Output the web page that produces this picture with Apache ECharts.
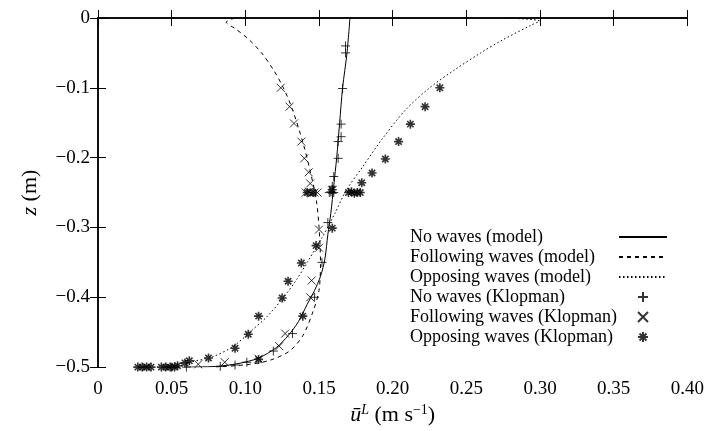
<!DOCTYPE html>
<html>
<head>
<meta charset="utf-8">
<script src="https://cdn.jsdelivr.net/npm/echarts@6/dist/echarts.min.js"></script>
<style>
  html, body { margin: 0; padding: 0; background: #fff; }
  #chart { width: 707px; height: 431px; }
</style>
</head>
<body>
<div id="chart"></div>
<script>
// data: [u (m/s), z (m)]
var noWavesModel = [
    [0.171, 0], [0.169, -0.05], [0.166, -0.10], [0.164, -0.15], [0.162, -0.20],
    [0.160, -0.24], [0.158, -0.28], [0.156, -0.31], [0.154, -0.345], [0.151, -0.37],
    [0.147, -0.39], [0.142, -0.41], [0.136, -0.435], [0.129, -0.455], [0.121, -0.472],
    [0.109, -0.487], [0.095, -0.495], [0.080, -0.499], [0.060, -0.5]
];
var followingModel = [
    [0.093, 0], [0.087, -0.006], [0.093, -0.015], [0.102, -0.03], [0.111, -0.05],
    [0.1193, -0.075], [0.1258, -0.10], [0.1318, -0.13], [0.1393, -0.18], [0.1441, -0.22],
    [0.1481, -0.26], [0.150, -0.30], [0.151, -0.35], [0.150, -0.39], [0.146, -0.42],
    [0.139, -0.455], [0.130, -0.477], [0.117, -0.490], [0.103, -0.496], [0.080, -0.5]
];
var opposingModel = [
    [0.277, 0], [0.2997, -0.0043], [0.2942, -0.010], [0.2746, -0.0314], [0.2597, -0.05],
    [0.2420, -0.0743], [0.2251, -0.100], [0.2088, -0.1314], [0.1925, -0.1743], [0.1797, -0.2129],
    [0.1688, -0.2457], [0.1607, -0.28], [0.152, -0.315], [0.142, -0.35], [0.135, -0.374],
    [0.126, -0.40], [0.115, -0.427], [0.103, -0.45], [0.092, -0.47], [0.078, -0.485],
    [0.062, -0.493], [0.045, -0.5]
];
var noWavesKlopman = [
    [0.168, -0.040], [0.168, -0.050], [0.166, -0.101], [0.165, -0.152], [0.165, -0.170],
    [0.163, -0.177], [0.163, -0.201], [0.160, -0.227], [0.159, -0.241], [0.157, -0.250],
    [0.158, -0.249], [0.159, -0.251], [0.160, -0.250], [0.156, -0.293], [0.152, -0.350],
    [0.147, -0.400], [0.132, -0.452], [0.119, -0.477], [0.101, -0.493], [0.093, -0.497],
    [0.083, -0.499], [0.060, -0.500], [0.050, -0.500]
];
var followingKlopman = [
    [0.124, -0.100], [0.130, -0.127], [0.133, -0.151], [0.138, -0.177], [0.140, -0.201],
    [0.143, -0.221], [0.144, -0.237], [0.141, -0.250], [0.143, -0.249], [0.145, -0.251],
    [0.147, -0.250], [0.149, -0.250], [0.150, -0.303], [0.150, -0.329], [0.145, -0.376],
    [0.144, -0.400], [0.127, -0.452], [0.123, -0.470], [0.109, -0.488], [0.086, -0.493],
    [0.068, -0.496], [0.048, -0.500], [0.033, -0.500]
];
var opposingKlopman = [
    [0.232, -0.100], [0.222, -0.127], [0.212, -0.152], [0.204, -0.177], [0.195, -0.202],
    [0.186, -0.222], [0.179, -0.236], [0.170, -0.250], [0.172, -0.249], [0.174, -0.251],
    [0.176, -0.250], [0.178, -0.250], [0.159, -0.246], [0.142, -0.250], [0.146, -0.250],
    [0.159, -0.301], [0.148, -0.326], [0.138, -0.351], [0.129, -0.377], [0.125, -0.401],
    [0.139, -0.427], [0.109, -0.427], [0.102, -0.453], [0.093, -0.473], [0.109, -0.489],
    [0.075, -0.487], [0.062, -0.491], [0.059, -0.494], [0.054, -0.498],
    [0.043, -0.500], [0.046, -0.500], [0.049, -0.500], [0.052, -0.500],
    [0.027, -0.500], [0.030, -0.500], [0.033, -0.500], [0.036, -0.500]
];
var legendNames = [
    'No waves (model)', 'Following waves (model)', 'Opposing waves (model)',
    'No waves (Klopman)', 'Following waves (Klopman)', 'Opposing waves (Klopman)'
];

var serif = '"Liberation Serif", "DejaVu Serif", serif';
var plusPath = 'path://M5,0L5,10M0,5L10,5';
var crossPath = 'path://M0,0L10,10M10,0L0,10';
var starPath = 'path://M5,0L5,10M0,5L10,5M1.5,1.5L8.5,8.5M8.5,1.5L1.5,8.5M3.5,3.5L6.5,3.5L6.5,6.5L3.5,6.5Z';

function lineSeries(name, data, type) {
    return {
        name: name, type: 'line', data: data, symbol: 'none', smooth: 0.3,
        lineStyle: { color: '#000', width: 1, type: type },
        itemStyle: { color: '#000' }, z: 2
    };
}
function markSeries(name, data, path, size, bw) {
    return {
        name: name, type: 'scatter', data: data, symbol: path, symbolSize: size,
        symbolKeepAspect: true,
        itemStyle: { color: 'rgba(0,0,0,0)', borderColor: '#000', borderWidth: bw }, z: 3
    };
}

// line entries: hide the dot ECharts puts in the middle of the legend line
var legendData = legendNames.map(function (n, i) {
    return i < 3 ? { name: n, itemStyle: { opacity: 0 } } : { name: n };
});

var chart = echarts.init(document.getElementById('chart'));
var tickLabel = { fontFamily: serif, fontSize: 19, color: '#000' };
chart.setOption({
    animation: false,
    grid: { left: 98, right: 19, top: 18, bottom: 63 },
    legend: {
        orient: 'vertical', left: 405, top: 222, align: 'right',
        itemWidth: 48, itemHeight: 10, itemGap: 0,
        formatter: function (n) { return '{t|' + n + '}'; },
        textStyle: {
            fontFamily: serif, fontSize: 18, color: '#000', lineHeight: 20,
            rich: { t: { fontFamily: serif, fontSize: 18, color: '#000', width: 204, align: 'left', lineHeight: 20 } }
        },
        data: legendData
    },
    xAxis: [{
        type: 'value', min: 0, max: 0.4, interval: 0.05,
        name: '{u|ū}{sup|L} (m s{s|−1})', nameLocation: 'middle', nameGap: 30,
        nameTextStyle: {
            fontFamily: serif, fontSize: 22, color: '#000',
            rich: {
                u: { fontFamily: serif, fontSize: 22, fontStyle: 'italic' },
                sup: { fontFamily: serif, fontSize: 14, fontStyle: 'italic', verticalAlign: 'top', padding: [0, 0, 10, 0] },
                s: { fontFamily: serif, fontSize: 14, verticalAlign: 'top', padding: [0, 0, 10, 0] }
            }
        },
        axisLine: { lineStyle: { color: '#000', width: 1.5 } },
        axisTick: { inside: true, length: 8, lineStyle: { color: '#000' } },
        axisLabel: Object.assign({ margin: 12, formatter: function (v) { return v === 0 ? '0' : v.toFixed(2); } }, tickLabel),
        splitLine: { show: false }
    }, {
        type: 'value', position: 'top', min: 0, max: 0.4, interval: 0.05,
        axisLine: { show: true, lineStyle: { color: '#000', width: 1.5 } },
        axisTick: { inside: true, length: 8, lineStyle: { color: '#000' } },
        axisLabel: { show: false }, splitLine: { show: false }
    }],
    yAxis: [{
        type: 'value', min: -0.5, max: 0, interval: 0.1,
        name: '{i|z} (m)', nameLocation: 'middle', nameGap: 57,
        nameTextStyle: {
            fontFamily: serif, fontSize: 22, color: '#000',
            rich: { i: { fontFamily: serif, fontSize: 22, fontStyle: 'italic' } }
        },
        axisLine: { lineStyle: { color: '#000', width: 1.5 } },
        axisTick: { inside: true, length: 8, lineStyle: { color: '#000' } },
        axisLabel: Object.assign({ margin: 8, formatter: function (v) { return v === 0 ? '0' : v.toFixed(1).replace('-', '\u2212'); } }, tickLabel),
        splitLine: { show: false }
    }, {
        type: 'value', position: 'right', min: -0.5, max: 0, interval: 0.1,
        axisLine: { show: true, lineStyle: { color: '#000', width: 1.5 } },
        axisTick: { inside: true, length: 8, lineStyle: { color: '#000' } },
        axisLabel: { show: false }, splitLine: { show: false }
    }],
    series: [
        lineSeries(legendNames[0], noWavesModel, 'solid'),
        lineSeries(legendNames[1], followingModel, [4, 4]),
        lineSeries(legendNames[2], opposingModel, [1.5, 2.5]),
        markSeries(legendNames[3], noWavesKlopman, plusPath, 9, 1),
        markSeries(legendNames[4], followingKlopman, crossPath, 8, 1),
        markSeries(legendNames[5], opposingKlopman, starPath, 9, 1.6)
    ]
});
</script>
</body>
</html>
